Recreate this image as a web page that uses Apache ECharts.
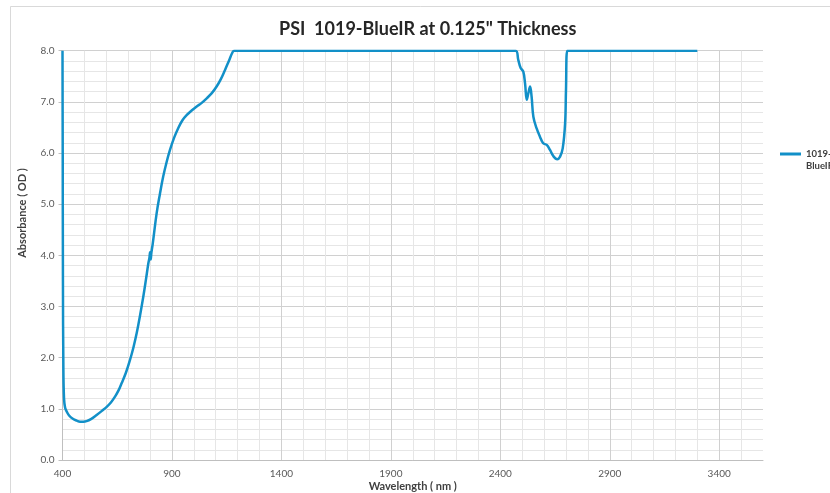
<!DOCTYPE html>
<html>
<head>
<meta charset="utf-8">
<script src="https://cdn.jsdelivr.net/npm/echarts@6/dist/echarts.min.js"></script>
<style>
  html, body { margin: 0; padding: 0; background: #fff; }
  #chart { width: 830px; height: 493px; }
</style>
</head>
<body>
<div id="chart"></div>
<script>
// wavelength (nm) and absorbance (OD)
var wavelength = [400, 401, 402, 404, 407, 412, 419, 430, 449, 465, 480, 495, 510, 530, 556, 580, 602, 622, 640, 656,
    670, 690, 708, 724, 739, 754, 769, 781, 792, 797, 800, 803, 806, 812, 830, 845, 860, 876, 891, 910,
    929, 948, 967, 990, 1013, 1036, 1059, 1082, 1104, 1124, 1142, 1160, 1178, 1185, 2470, 2482, 2493, 2505, 2513, 2521,
    2528, 2536, 2543, 2551, 2566, 2581, 2596, 2612, 2627, 2642, 2660, 2673, 2685, 2696, 2700, 2706, 3300];
var absorbance = [8.0, 6.0, 3.5, 1.8, 1.2, 1.02, 0.95, 0.87, 0.80, 0.77, 0.75, 0.75, 0.76, 0.80, 0.88, 0.96, 1.04, 1.13, 1.24, 1.36,
    1.50, 1.71, 1.95, 2.20, 2.48, 2.82, 3.19, 3.52, 3.84, 3.95, 4.06, 3.92, 4.05, 4.22, 4.82, 5.20, 5.54, 5.83, 6.06, 6.30,
    6.49, 6.64, 6.74, 6.83, 6.91, 6.98, 7.07, 7.17, 7.30, 7.45, 7.62, 7.80, 7.98, 8.0, 8.0, 7.82, 7.66, 7.59, 7.36, 7.04,
    7.17, 7.30, 7.10, 6.71, 6.48, 6.32, 6.19, 6.16, 6.06, 5.94, 5.88, 5.93, 6.09, 6.58, 7.23, 8.0, 8.0];
var xLabelStart = 400;
var xLabelStep = 500;

var seriesData = wavelength.map(function (w, i) {
    return [w, absorbance[i]];
});

var font = 'Lato, "Open Sans", sans-serif';
var majorGrid = '#d0d0d0';
var minorGrid = '#e6e6e6';

var chart = echarts.init(document.getElementById('chart'), null, { renderer: 'canvas' });

chart.setOption({
    backgroundColor: '#fff',
    animation: false,
    title: {
        text: 'PSI  1019-BlueIR at 0.125" Thickness',
        left: 274,
        top: 15,
        textStyle: {
            fontFamily: font,
            fontSize: 18,
            fontWeight: 'bold',
            color: '#262626'
        }
    },
    legend: {
        left: 780,
        top: 136,
        padding: 0,
        itemWidth: 21,
        itemHeight: 3,
        icon: 'rect',
        // blank first line keeps the icon level with "1019-"
        formatter: function () { return ' \n1019-\nBlueIR'; },
        textStyle: {
            fontFamily: font,
            fontSize: 9.5,
            fontWeight: 'bold',
            color: '#404040',
            lineHeight: 12
        }
    },
    grid: {
        left: 62.5,
        right: 67,
        top: 50.7,
        bottom: 33,
        containLabel: false,
        outerBoundsMode: 'none'
    },
    xAxis: {
        type: 'value',
        min: 400,
        max: 3600,
        interval: 100,
        name: 'Wavelength ( nm )',
        nameLocation: 'middle',
        nameGap: 21,
        nameMoveOverlap: false,
        nameTextStyle: {
            fontFamily: font,
            fontSize: 11,
            fontWeight: 'bold',
            color: '#404040'
        },
        axisLine: { lineStyle: { color: '#bfbfbf', width: 1 } },
        axisTick: { show: false },
        axisLabel: {
            margin: 9,
            fontFamily: font,
            fontSize: 10,
            color: '#595959',
            formatter: function (v) {
                return (v - xLabelStart) % xLabelStep === 0 ? String(v) : '';
            }
        },
        splitLine: {
            show: true,
            showMaxLine: false,
            lineStyle: { color: [majorGrid, minorGrid, minorGrid, minorGrid, minorGrid], width: 1 }
        }
    },
    yAxis: {
        type: 'value',
        min: 0,
        max: 8,
        interval: 1,
        axisLine: { show: true, lineStyle: { color: '#bfbfbf', width: 1 } },
        axisTick: { show: true, length: 4, lineStyle: { color: '#bfbfbf' } },
        axisLabel: {
            margin: 8,
            fontFamily: font,
            fontSize: 10,
            color: '#595959',
            formatter: function (v) { return v.toFixed(1); }
        },
        splitLine: { show: true, lineStyle: { color: majorGrid, width: 1 } },
        minorTick: { show: false, splitNumber: 5 },
        minorSplitLine: { show: true, lineStyle: { color: minorGrid, width: 1 } }
    },
    graphic: [
        {
            type: 'rect',
            shape: { x: 10.5, y: 6.5, width: 830, height: 500 },
            style: { fill: 'none', stroke: '#d9d9d9', lineWidth: 1 },
            silent: true
        },
        {
            type: 'text',
            x: 22,
            y: 213,
            rotation: Math.PI / 2,
            style: {
                text: 'Absorbance ( OD )',
                fontFamily: font,
                fontSize: 11,
                fontWeight: 'bold',
                fill: '#404040',
                align: 'center',
                verticalAlign: 'middle'
            }
        }
    ],
    series: [
        {
            name: '1019-BlueIR',
            type: 'line',
            data: seriesData,
            symbol: 'none',
            smooth: 0.4,
            lineStyle: { color: '#1290c8', width: 2.5 },
            itemStyle: { color: '#1290c8' }
        }
    ]
});
</script>
</body>
</html>
